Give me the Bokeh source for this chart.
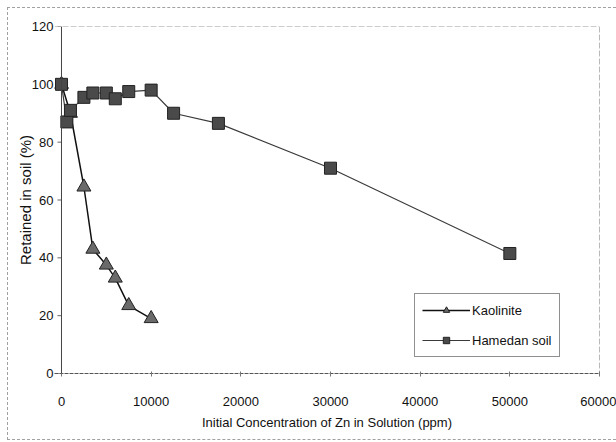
from bokeh.plotting import figure
from bokeh.models import Range1d, FixedTicker, Legend, LegendItem, Span, InlineStyleSheet
from bokeh.embed import file_html
from bokeh.resources import INLINE

# --- data ---
conc_kaolinite = [0, 1000, 2500, 3500, 5000, 6000, 7500, 10000]
ret_kaolinite = [100, 90, 64.5, 43, 37.5, 33, 23.5, 19]

conc_hamedan = [0, 600, 1000, 2500, 3500, 5000, 6000, 7500, 10000, 12500, 17500, 30000, 50000]
ret_hamedan = [100, 87, 91, 95.5, 97, 97, 95, 97.5, 98, 90, 86.5, 71, 41.5]

x_ticks = [0, 10000, 20000, 30000, 40000, 50000, 60000]
y_ticks = [0, 20, 40, 60, 80, 100, 120]

FONT = "Liberation Sans"

p = figure(width=616, height=442, output_backend="svg", toolbar_location=None,
           x_range=Range1d(-780, 60000), y_range=Range1d(0, 120),
           min_border_left=54, min_border_right=17, min_border_top=26, min_border_bottom=69)

p.xgrid.visible = False
p.ygrid.visible = False
p.outline_line_color = None
p.background_fill_color = "white"
p.border_fill_color = "white"

# axes
p.xaxis.ticker = FixedTicker(ticks=x_ticks)
p.yaxis.ticker = FixedTicker(ticks=y_ticks)
for ax in (p.xaxis[0], p.yaxis[0]):
    ax.major_label_text_font = FONT
    ax.major_label_text_font_size = "13px"
    ax.major_label_text_color = "#111111"
    ax.axis_label_text_font = FONT
    ax.axis_label_text_font_size = "13px"
    ax.axis_label_text_font_style = "normal"
    ax.axis_label_text_color = "#111111"
    ax.minor_tick_line_color = None

p.xaxis.axis_label = "Initial Concentration of Zn in Solution (ppm)"
p.xaxis.axis_line_color = "#555555"
p.xaxis.axis_line_dash = "4 1"
p.xaxis.major_tick_line_color = "#777777"
p.xaxis.major_tick_out = 3
p.xaxis.major_tick_in = 2
p.xaxis.major_label_standoff = 20
p.xaxis.axis_label_standoff = 6

p.yaxis.axis_label = "Retained in soil (%)"
p.yaxis.axis_label_text_font_size = "15px"
p.yaxis.axis_line_color = None
p.yaxis.major_tick_line_color = None
p.yaxis.major_tick_out = 0
p.yaxis.major_tick_in = 0
p.yaxis.major_label_standoff = 1
p.yaxis.axis_label_standoff = -5

# y axis line at x = 0 and small tick marks
p.add_layout(Span(location=0, dimension="height", line_color="#444444", line_width=1))
p.segment(x0=[-450] * len(y_ticks), y0=y_ticks, x1=[0] * len(y_ticks), y1=y_ticks,
          line_color="#666666", line_width=1)
# top / right frame borders (light dashed)
p.add_layout(Span(location=120, dimension="width", line_color="#9a9a9a", line_width=1, line_dash="6 2"))
p.add_layout(Span(location=60000, dimension="height", line_color="#777777", line_width=1, line_dash="6 2"))

# series
k_line = p.line(conc_kaolinite, ret_kaolinite, line_color="#111111", line_width=1.5)
k_pts = p.scatter(conc_kaolinite, ret_kaolinite, marker="triangle", size=14,
                  fill_color="#6a6a6a", line_color="#222222", line_width=1)
h_line = p.line(conc_hamedan, ret_hamedan, line_color="#3a3a3a", line_width=1.2)
h_pts = p.scatter(conc_hamedan, ret_hamedan, marker="square", size=12,
                  fill_color="#4a4a4a", line_color="#222222", line_width=1)

legend = Legend(items=[LegendItem(label="Kaolinite", renderers=[k_line, k_pts]),
                       LegendItem(label="Hamedan soil", renderers=[h_line, h_pts])],
                location=(360, 16), orientation="vertical",
                label_text_font=FONT, label_text_font_size="13px", label_text_color="#111111",
                glyph_width=48, glyph_height=16, label_height=18, label_standoff=2,
                spacing=12, padding=7, margin=0,
                border_line_color="#222222", border_line_width=1,
                background_fill_color="white", background_fill_alpha=1.0)
p.add_layout(legend)

p.stylesheets = [InlineStyleSheet(css=(
    ":host { position: relative; }\n"
    ":host::after { content: ''; position: absolute; left: 7px; top: 7px; bottom: 2px; right: -10px;"
    " border: 1px dashed #a0a0a0; pointer-events: none; z-index: 100; }"))]

open("out.html", "w").write(file_html(p, INLINE))
